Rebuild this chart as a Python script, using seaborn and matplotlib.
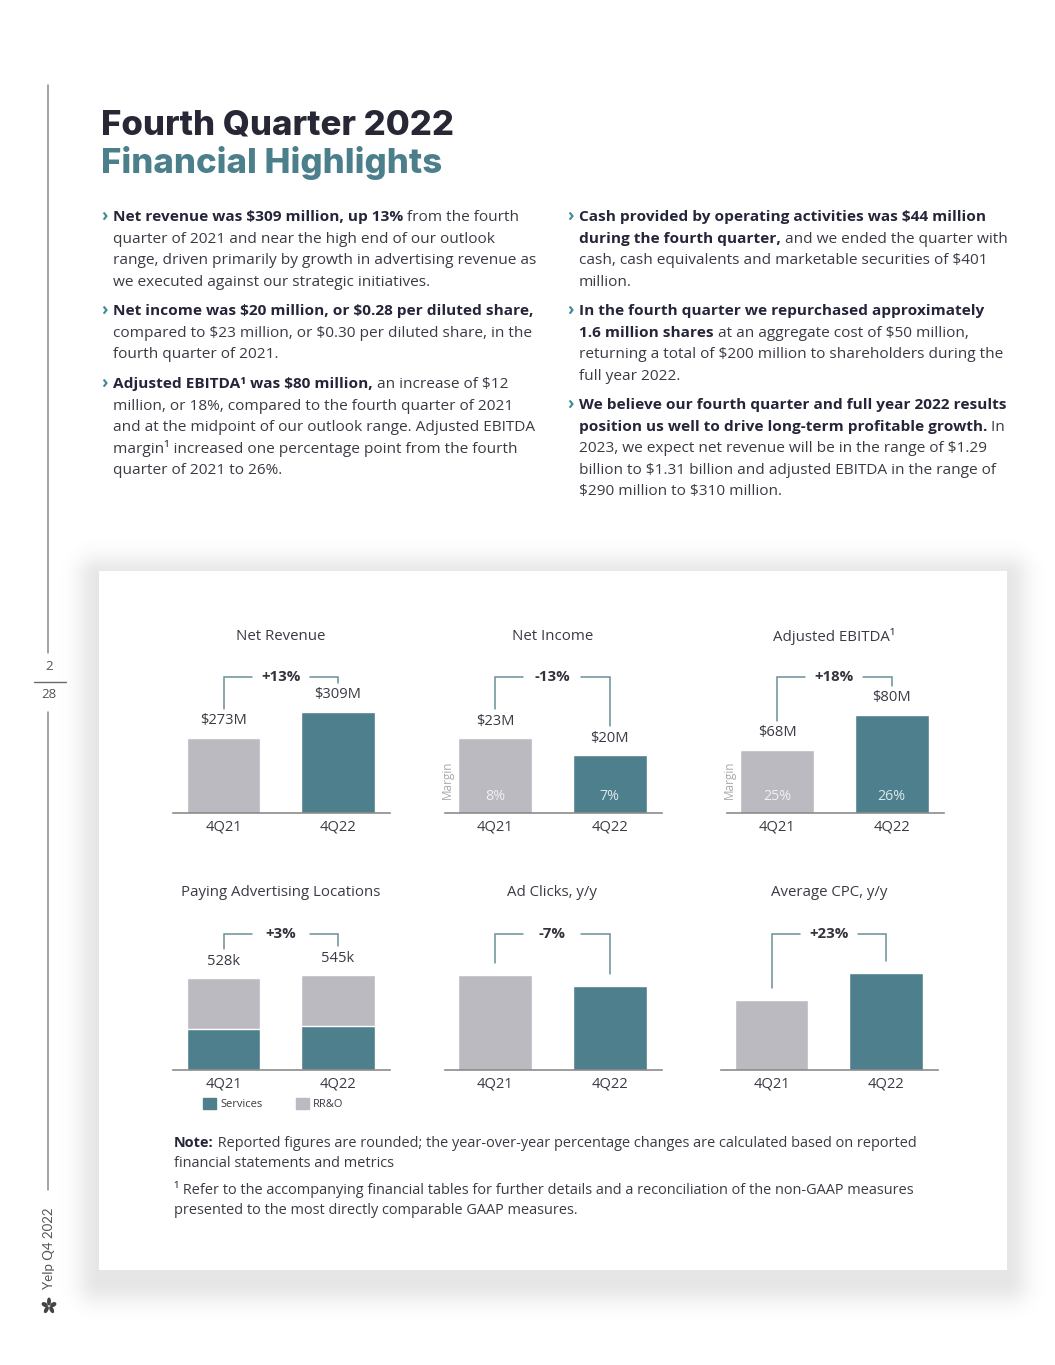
import numpy as np
import seaborn as sns
import matplotlib.pyplot as plt
from matplotlib.patches import Rectangle, Ellipse, Patch
from matplotlib.lines import Line2D

#######   data   #############
quarters = ["4Q21", "4Q22"]
net_revenue = [273, 309]          # $M
net_income = [23, 20]             # $M
net_income_margin = [8, 7]        # %
adj_ebitda = [68, 80]             # $M
adj_ebitda_margin = [25, 26]      # %
pal_total = [528, 545]            # paying advertising locations, k
pal_services = [235, 250]         # k
ad_clicks_idx = [100, 93]         # indexed, 4Q21 = 100
avg_cpc_idx = [100, 123]          # indexed, 4Q21 = 100

W, H = 1055, 1365
GRAY = "#bbbac0"
TEAL = "#4e7f8c"
BRACKET = "#6b8f98"
TXT = "#3a3a44"
DARK = "#25253a"
CHEV = "#3f8b97"

sns.set_theme(style="white")
plt.rcParams['font.family'] = ['Open Sans', 'DejaVu Sans']
plt.rcParams['text.parse_math'] = False

fig = plt.figure(figsize=(W / 100, H / 100), dpi=100)
fig.patch.set_facecolor("white")
renderer = fig.canvas.get_renderer()


def fx(x):
    return x / W


def fy(y):
    return 1 - y / H


#######   background: card with soft shadow   #############
bg = fig.add_axes([0, 0, 1, 1], zorder=-5)
bg.set_xlim(0, W)
bg.set_ylim(H, 0)
bg.axis("off")
yy, xx = np.mgrid[0:H, 0:W] + 0.5
dx = np.maximum(np.maximum(99 - xx, xx - 1007), 0)
dy = np.maximum(np.maximum(577 - yy, yy - 1282), 0)
shade = 0.10 * np.exp(-(np.hypot(dx, dy) / 22.0) ** 2)
rgba = np.zeros((H, W, 4))
rgba[..., 3] = shade
bg.imshow(rgba, extent=(0, W, H, 0), interpolation="bilinear", zorder=0)
bg.add_patch(Rectangle((99, 571), 908, 699, color="white", lw=0, zorder=1))

#######   page furniture   #############
fig.add_artist(Line2D([fx(48), fx(48)], [fy(85), fy(653)], color="#8a8a8a", lw=1.1))
fig.add_artist(Line2D([fx(48), fx(48)], [fy(712), fy(1190)], color="#8a8a8a", lw=1.1))
fig.add_artist(Line2D([fx(34), fx(66)], [fy(682), fy(682)], color="#6a6a6a", lw=1.0))
fig.text(fx(49), fy(667), "2", fontsize=9.5, color="#555555", ha="center", va="center")
fig.text(fx(49), fy(695), "28", fontsize=9.5, color="#555555", ha="center", va="center")
fig.text(fx(49), fy(1248), "Yelp Q4 2022", fontsize=9.5, color="#555555", rotation=90,
         ha="center", va="center", family=["Lato", "DejaVu Sans"])
# little yelp burst
for ang in [90, 162, 234, 306, 18]:
    a = np.deg2rad(ang)
    cx, cy = 49 + 4.5 * np.cos(a), 1306 - 4.5 * np.sin(a)
    fig.add_artist(Ellipse((fx(cx), fy(cy)), 5 / W, 3.2 / H, angle=ang, color="#444444"))

# titles
fig.text(fx(101), fy(134), "Fourth Quarter 2022", fontsize=25, fontweight="heavy", color="#272735",
         family=["Inter", "DejaVu Sans"], va="baseline")
fig.text(fx(101), fy(173), "Financial Highlights", fontsize=25, fontweight="heavy", color="#4b7f8b",
         family=["Inter", "DejaVu Sans"], va="baseline")


def text_runs(x, y, parts, size=11.1):
    cx = x
    for s, b in parts:
        t = fig.text(fx(cx), fy(y), s, fontsize=size, va="baseline",
                     fontweight="bold" if b else "normal", color=DARK if b else TXT)
        bb = t.get_window_extent(renderer)
        cx = bb.x1


def bullet(x, y0, lines, step=21.6):
    fig.text(fx(x - 12), fy(y0 + 5), "›", fontsize=12.5, fontweight="bold", color=CHEV, va="baseline")
    for i, parts in enumerate(lines):
        text_runs(x, y0 + 5 + i * step, parts)


bullet(113, 216, [[("Net revenue was $309 million, up 13%", True), (" from the fourth", False)],
                  [("quarter of 2021 and near the high end of our outlook", False)],
                  [("range, driven primarily by growth in advertising revenue as", False)],
                  [("we executed against our strategic initiatives.", False)]])
bullet(113, 310, [[("Net income was $20 million, or $0.28 per diluted share,", True)],
                  [("compared to $23 million, or $0.30 per diluted share, in the", False)],
                  [("fourth quarter of 2021.", False)]])
bullet(113, 383, [[("Adjusted EBITDA¹ was $80 million,", True), (" an increase of $12", False)],
                  [("million, or 18%, compared to the fourth quarter of 2021", False)],
                  [("and at the midpoint of our outlook range. Adjusted EBITDA", False)],
                  [("margin¹ increased one percentage point from the fourth", False)],
                  [("quarter of 2021 to 26%.", False)]])
bullet(579, 216, [[("Cash provided by operating activities was $44 million", True)],
                  [("during the fourth quarter,", True), (" and we ended the quarter with", False)],
                  [("cash, cash equivalents and marketable securities of $401", False)],
                  [("million.", False)]])
bullet(579, 310, [[("In the fourth quarter we repurchased approximately", True)],
                  [("1.6 million shares", True), (" at an aggregate cost of $50 million,", False)],
                  [("returning a total of $200 million to shareholders during the", False)],
                  [("full year 2022.", False)]])
bullet(579, 404, [[("We believe our fourth quarter and full year 2022 results", True)],
                  [("position us well to drive long-term profitable growth.", True), (" In", False)],
                  [("2023, we expect net revenue will be in the range of $1.29", False)],
                  [("billion to $1.31 billion and adjusted EBITDA in the range of", False)],
                  [("$290 million to $310 million.", False)]])

#######   chart panels   #############
SPAN = 114.5      # px between bar centres
AX_H = 150        # px axes height above baseline


def panel(x_first, baseline, vals, title, ylim, colors=(GRAY, TEAL), labels=None,
          margins=None, stack=None):
    left = x_first - 0.441 * SPAN
    ax = fig.add_axes([fx(left), fy(baseline), 217 / W, AX_H / H])
    ax.patch.set_alpha(0)
    pal = dict(zip(quarters, colors))
    sns.barplot(x=quarters, y=vals, hue=quarters, palette=pal, legend=False,
                width=0.646, saturation=1, ax=ax)
    if stack is not None:
        sns.barplot(x=quarters, y=stack, hue=quarters, palette={q: TEAL for q in quarters},
                    legend=False, width=0.646, saturation=1, ax=ax)
    ax.set_xlim(-0.441, 1.454)
    ax.set_ylim(*ylim)
    ax.set_yticks([])
    ax.set_xlabel("")
    ax.set_ylabel("")
    sns.despine(ax=ax, left=True)
    ax.spines["bottom"].set_color("#8c8c8c")
    ax.spines["bottom"].set_linewidth(1.2)
    ax.tick_params(axis="x", length=0, pad=4.8, labelsize=10.6, labelcolor=TXT)

    xt = ax.get_xaxis_transform()
    ax.text(0.5, 177 / AX_H, title, transform=xt, ha="center", va="center", fontsize=10.8, color=TXT)

    to_frac = ax.transAxes.inverted()
    ends = []
    for i, v in enumerate(vals):
        top_px = ax.transData.transform((i, v))[1]
        if labels is not None:
            ax.annotate(labels[i], (i, v), xytext=(0, 17), textcoords="offset pixels",
                        ha="center", va="center", fontsize=10.6, color=TXT)
            gap = 29
        else:
            gap = 12
        ends.append(to_frac.transform((0, top_px + gap))[1])
        if margins is not None:
            ax.text(i, 17 / AX_H, f"{margins[i]}%", transform=xt, ha="center", va="center",
                    fontsize=10.3, color="#f0f0f2" if i == 0 else "#dce8ea")
    if margins is not None:
        ax.text(-0.42, 33 / AX_H, "Margin", transform=xt, rotation=90, ha="center", va="center",
                fontsize=8.5, color="#a9a9ae")

    # bracket with change
    yb = 136 / AX_H
    g = 29 / SPAN
    ax.plot([0, 0, 0.5 - g], [ends[0], yb, yb], transform=xt, color=BRACKET, lw=1.1,
            clip_on=False, solid_joinstyle="miter")
    ax.plot([0.5 + g, 1, 1], [yb, yb, ends[1]], transform=xt, color=BRACKET, lw=1.1,
            clip_on=False, solid_joinstyle="miter")
    change = (vals[1] / vals[0] - 1) * 100
    ax.text(0.5, yb, f"{change:+.0f}%", transform=xt, ha="center", va="center",
            fontsize=10.8, fontweight="bold", color="#33333d")
    return ax


TOP, BOT = 813, 1070
panel(223.5, TOP, net_revenue, "Net Revenue", (169, 376.8),
      labels=[f"${v}M" for v in net_revenue])
panel(495, TOP, net_income, "Net Income", (9.8, 36.3),
      labels=[f"${v}M" for v in net_income], margins=net_income_margin)
panel(777, TOP, adj_ebitda, "Adjusted EBITDA¹", (46.4, 97.8),
      labels=[f"${v}M" for v in adj_ebitda], margins=adj_ebitda_margin)
ax4 = panel(223.5, BOT, pal_total, "Paying Advertising Locations", (0, 861),
            colors=(GRAY, GRAY), labels=[f"{v}k" for v in pal_total], stack=pal_services)
panel(495, BOT, ad_clicks_idx, "Ad Clicks, y/y", (39.5, 135))
panel(771.5, BOT, avg_cpc_idx, "Average CPC, y/y", (40.4, 168.2))

handles = [Patch(color=TEAL, label="Services"), Patch(color=GRAY, label="RR&O")]
ax4.legend(handles=handles, loc="upper left", bbox_to_anchor=(fx(203), fy(1098)),
           bbox_transform=fig.transFigure, ncol=2, frameon=False, fontsize=8,
           handlelength=1.2, handleheight=1.2, handletextpad=0.35, columnspacing=3.0,
           labelcolor=TXT, borderaxespad=0, borderpad=0)

#######   notes   #############
text_runs(174, 1147, [("Note:", True), (" Reported figures are rounded; the year-over-year percentage changes are calculated based on reported", False)], size=10.45)
text_runs(174, 1167, [("financial statements and metrics", False)], size=10.45)
text_runs(174, 1194, [("¹ Refer to the accompanying financial tables for further details and a reconciliation of the non-GAAP measures", False)], size=10.45)
text_runs(174, 1214, [("presented to the most directly comparable GAAP measures.", False)], size=10.45)

plt.savefig("out.png", dpi=100)
